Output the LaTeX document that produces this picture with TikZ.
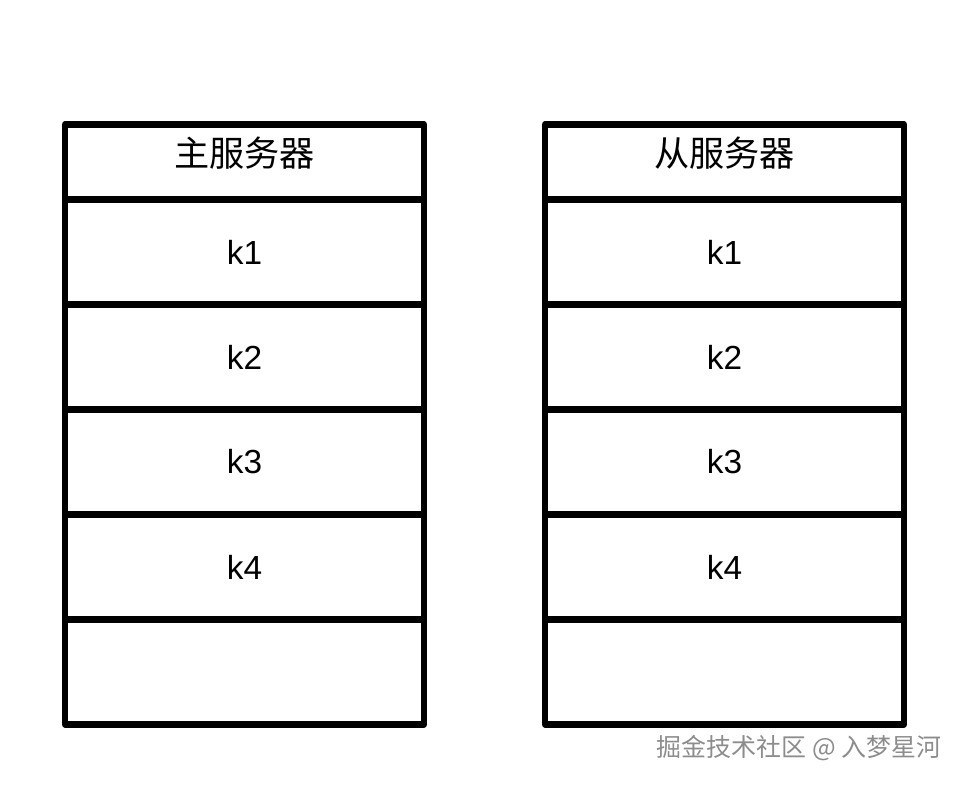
\documentclass[tikz,border=0pt]{standalone}
\usepackage{fontspec}
\setmainfont{Liberation Sans}
\newfontfamily\cjk{Noto Sans CJK SC}
\usetikzlibrary{positioning}
\definecolor{MarkGray}{RGB}{140,140,140}
\tikzset{cell/.style={draw,line width=1.85pt,outer sep=0pt,inner sep=0pt,
    minimum width=3.59cm,minimum height=1.05cm,font=\fontsize{9.5}{11}\selectfont}}

\begin{document}
\begin{tikzpicture}[line cap=round,line join=round,x=1.0cm,y=1.0cm]
  \useasboundingbox (0,0) rectangle (9.66,-7.86);
  % master
  \node[cell,minimum height=0.75cm] (mhead) at (2.445,-1.62) {};
  \node[cell,below=0pt of mhead] (mk1) {k1};
  \node[cell,below=0pt of mk1] (mk2) {k2};
  \node[cell,below=0pt of mk2] (mk3) {k3};
  \node[cell,below=0pt of mk3] (mk4) {k4};
  \node[cell,below=0pt of mk4] (mk5) {};
  \node (mtitle) at (2.445,-1.53) {\cjk\fontsize{10}{12}\selectfont 主服务器};
  % slave
  \node[cell,minimum height=0.75cm] (shead) at (7.245,-1.62) {};
  \node[cell,below=0pt of shead] (sk1) {k1};
  \node[cell,below=0pt of sk1] (sk2) {k2};
  \node[cell,below=0pt of sk2] (sk3) {k3};
  \node[cell,below=0pt of sk3] (sk4) {k4};
  \node[cell,below=0pt of sk4] (sk5) {};
  \node (stitle) at (7.245,-1.53) {\cjk\fontsize{10}{12}\selectfont 从服务器};
  % watermark
  \node[anchor=east,text=MarkGray,inner sep=0pt] (mark) at (9.42,-7.48)
    {\cjk\fontsize{7.1}{8}\selectfont 掘金技术社区 @ 入梦星河};
\end{tikzpicture}
\end{document}
